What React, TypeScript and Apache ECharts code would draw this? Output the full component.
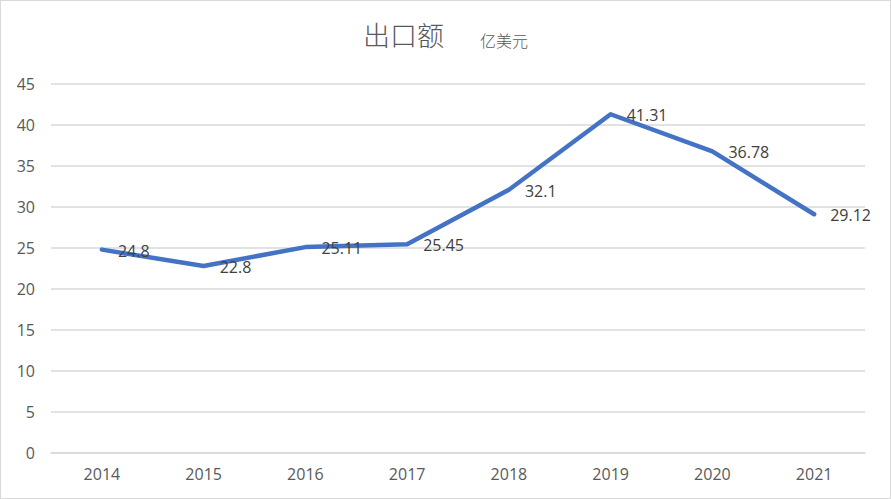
import React, { useEffect, useRef } from "react";
import * as echarts from "echarts";

const years = ["2014", "2015", "2016", "2017", "2018", "2019", "2020", "2021"];
const exportValues = [24.8, 22.8, 25.11, 25.45, 32.1, 41.31, 36.78, 29.12];
const titleText = "出口额";
const unitText = "亿美元";

export default function App() {
  const ref = useRef<HTMLDivElement>(null);
  useEffect(() => {
    if (!ref.current) return;
    const chart = echarts.init(ref.current, undefined, { renderer: "svg" });
    const cjk = "'Noto Sans CJK SC', sans-serif";
    const num = "'Open Sans', 'Noto Sans', sans-serif";
    chart.setOption({
      animation: false,
      backgroundColor: "#ffffff",
      textStyle: { fontFamily: num },
      title: [
        {
          text: titleText,
          left: 362,
          top: 20,
          padding: 0,
          textStyle: { fontSize: 27, fontWeight: 300, color: "#595959", fontFamily: cjk },
        },
        {
          text: unitText,
          left: 479,
          top: 31,
          padding: 0,
          textStyle: { fontSize: 16, fontWeight: 300, color: "#595959", fontFamily: cjk },
        },
      ],
      grid: { left: 50, right: 25, top: 83, bottom: 45, containLabel: false },
      xAxis: {
        type: "category",
        data: years,
        boundaryGap: true,
        axisLine: { show: true, lineStyle: { color: "#d9d9d9", width: 1.5 } },
        axisTick: { show: false },
        axisLabel: { color: "#595959", fontSize: 16, margin: 13, fontFamily: num },
      },
      yAxis: {
        type: "value",
        min: 0,
        max: 45,
        interval: 5,
        axisLine: { show: false },
        axisTick: { show: false },
        axisLabel: { color: "#595959", fontSize: 16, margin: 16, fontFamily: num },
        splitLine: { lineStyle: { color: "#d9d9d9", width: 1.5 } },
      },
      series: [
        {
          type: "line",
          data: exportValues,
          showSymbol: true,
          symbol: "circle",
          symbolSize: 2,
          itemStyle: { color: "rgba(0,0,0,0)", borderWidth: 0 },
          lineStyle: { color: "#4472C4", width: 4.5, cap: "round", join: "round" },
          label: {
            show: true,
            position: "right",
            distance: 15,
            offset: [0, 1],
            color: "#404040",
            fontSize: 16,
            fontFamily: num,
          },
        },
      ],
    });
    return () => chart.dispose();
  }, []);
  return (
    <div
      style={{
        position: "fixed",
        left: 0,
        top: 0,
        width: 891,
        height: 499,
        boxSizing: "border-box",
        border: "1px solid #d9d9d9",
        background: "#fff",
      }}
    >
      <div ref={ref} style={{ width: 889, height: 497 }} />
    </div>
  );
}
